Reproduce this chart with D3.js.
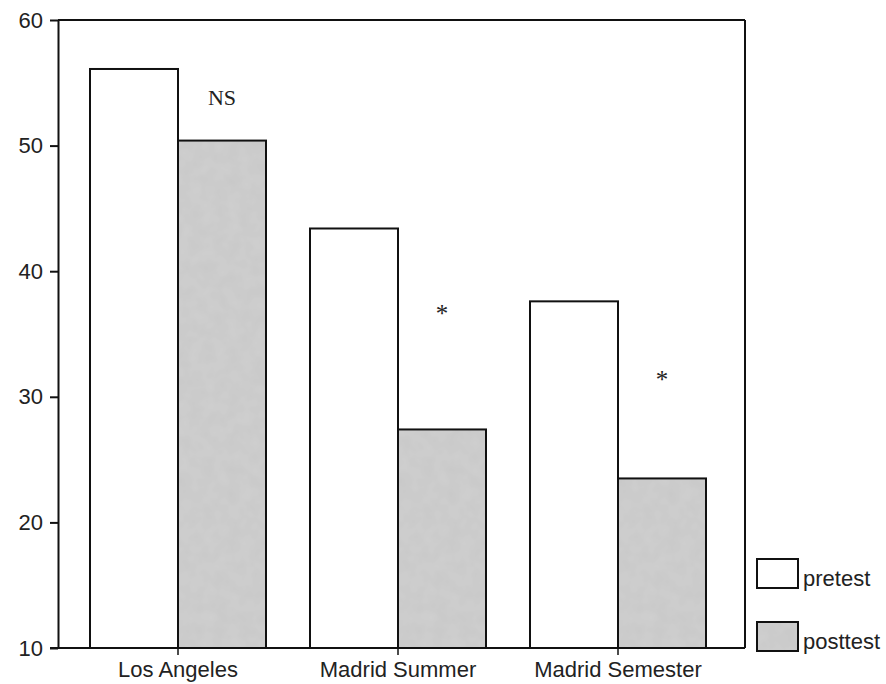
<!DOCTYPE html>
<html><head><meta charset="utf-8">
<script src="https://cdn.jsdelivr.net/npm/d3@7"></script>
<style>body{margin:0;background:#fff;} svg{display:block;}</style>
</head><body>
<svg id="c" width="886" height="684"></svg>
<script>
const categories = ["Los Angeles", "Madrid Summer", "Madrid Semester"];
const seriesNames = ["pretest", "posttest"];
const pretest = [56.1, 43.4, 37.6];
const posttest = [50.4, 27.4, 23.5];
const annotations = ["NS", "*", "*"];
const annotationLevels = [53.8, 36.6, 31.4];
const yTicks = [10, 20, 30, 40, 50, 60];

(function(){
const svg = d3.select("#c");
const pL = 58, pR = 745, pT = 20, pB = 648;
const FONT = "Liberation Sans, Arial, sans-serif";
const y = d3.scaleLinear().domain([10, 60]).range([pB, pT]);
const x = d3.scaleBand().domain(categories).range([68, 728]).paddingInner(0.2).paddingOuter(0.1);
const xs = d3.scaleBand().domain(seriesNames).range([0, x.bandwidth()]);
const colors = {pretest: "#ffffff", posttest: "#c8c8c8"};

const defs = svg.append("defs");
const f = defs.append("filter").attr("id","tex");
f.append("feTurbulence").attr("type","fractalNoise").attr("baseFrequency",0.08).attr("numOctaves",2).attr("seed",3).attr("result","n");
f.append("feColorMatrix").attr("in","n").attr("type","matrix")
  .attr("values","0 0 0 0 0.72  0 0 0 0 0.72  0 0 0 0 0.72  0 0 0 0.35 0").attr("result","m");
f.append("feComposite").attr("in","m").attr("in2","SourceGraphic").attr("operator","atop");

const rows = categories.map((c,i)=>({cat:c, values:[{s:"pretest",v:pretest[i]},{s:"posttest",v:posttest[i]}]}));

const cats = svg.append("g").selectAll("g.cat").data(rows).join("g").attr("class","cat")
  .attr("transform", d=>`translate(${x(d.cat)},0)`);
// fills
cats.selectAll("rect.fill").data(d=>d.values).join("rect").attr("class","fill")
  .attr("x", d=>xs(d.s)).attr("width", xs.bandwidth())
  .attr("y", d=>y(d.v)).attr("height", d=>y(10)-y(d.v))
  .attr("fill", d=>colors[d.s])
  .attr("filter", d=>d.s==="posttest"?"url(#tex)":null);
// outlines
cats.selectAll("rect.out").data(d=>d.values).join("rect").attr("class","out")
  .attr("x", d=>xs(d.s)).attr("width", xs.bandwidth())
  .attr("y", d=>y(d.v)).attr("height", d=>y(10)-y(d.v))
  .attr("fill", "none")
  .attr("stroke","#111").attr("stroke-width",2);

svg.append("line").attr("x1",pL).attr("x2",pR).attr("y1",pT).attr("y2",pT).attr("stroke","#111").attr("stroke-width",2);
svg.append("line").attr("x1",pR).attr("x2",pR).attr("y1",pT).attr("y2",pB).attr("stroke","#111").attr("stroke-width",2);

const ya = svg.append("g").attr("transform",`translate(${pL},0)`)
  .call(d3.axisLeft(y).tickValues(yTicks).tickSize(8).tickSizeOuter(0).tickPadding(7));
ya.select(".domain").attr("stroke","#111").attr("stroke-width",2);
ya.selectAll(".tick line").attr("stroke","#111").attr("stroke-width",2);
ya.selectAll(".tick text").attr("font-family",FONT).attr("font-size",22).attr("fill","#222");

const xa = svg.append("g").attr("transform",`translate(0,${pB})`)
  .call(d3.axisBottom(x).tickSize(7).tickSizeOuter(0).tickPadding(6));
xa.select(".domain").attr("d",`M50,0H${pR}`).attr("stroke","#111").attr("stroke-width",2);
xa.selectAll(".tick line").attr("stroke","#111").attr("stroke-width",1.5);
xa.selectAll(".tick text").attr("font-family",FONT).attr("font-size",22).attr("fill","#222");

svg.selectAll("text.ann").data(categories).join("text").attr("class","ann")
  .attr("x", c=>x(c)+xs("posttest")+xs.bandwidth()/2)
  .attr("y", (c,i)=>y(annotationLevels[i]))
  .attr("text-anchor","middle")
  .attr("dominant-baseline", "central")
  .attr("font-family","Liberation Serif, Times New Roman, serif")
  .attr("font-size", (c,i)=>annotations[i]==="NS"?22:25)
  .attr("fill","#222")
  .text((c,i)=>annotations[i]);

const lg = svg.append("g").attr("transform","translate(757,559)");
seriesNames.forEach((s,i)=>{
  const r = lg.append("g").attr("transform",`translate(0,${i*63})`);
  r.append("rect").attr("width",41).attr("height",29).attr("fill",colors[s])
    .attr("filter", s==="posttest"?"url(#tex)":null);
  r.append("rect").attr("width",41).attr("height",29).attr("fill","none")
    .attr("stroke","#111").attr("stroke-width",2);
  r.append("text").attr("x",46).attr("y",27).attr("font-family",FONT)
    .attr("font-size",22).attr("fill","#222").text(s);
});
})();
</script>
</body></html>
